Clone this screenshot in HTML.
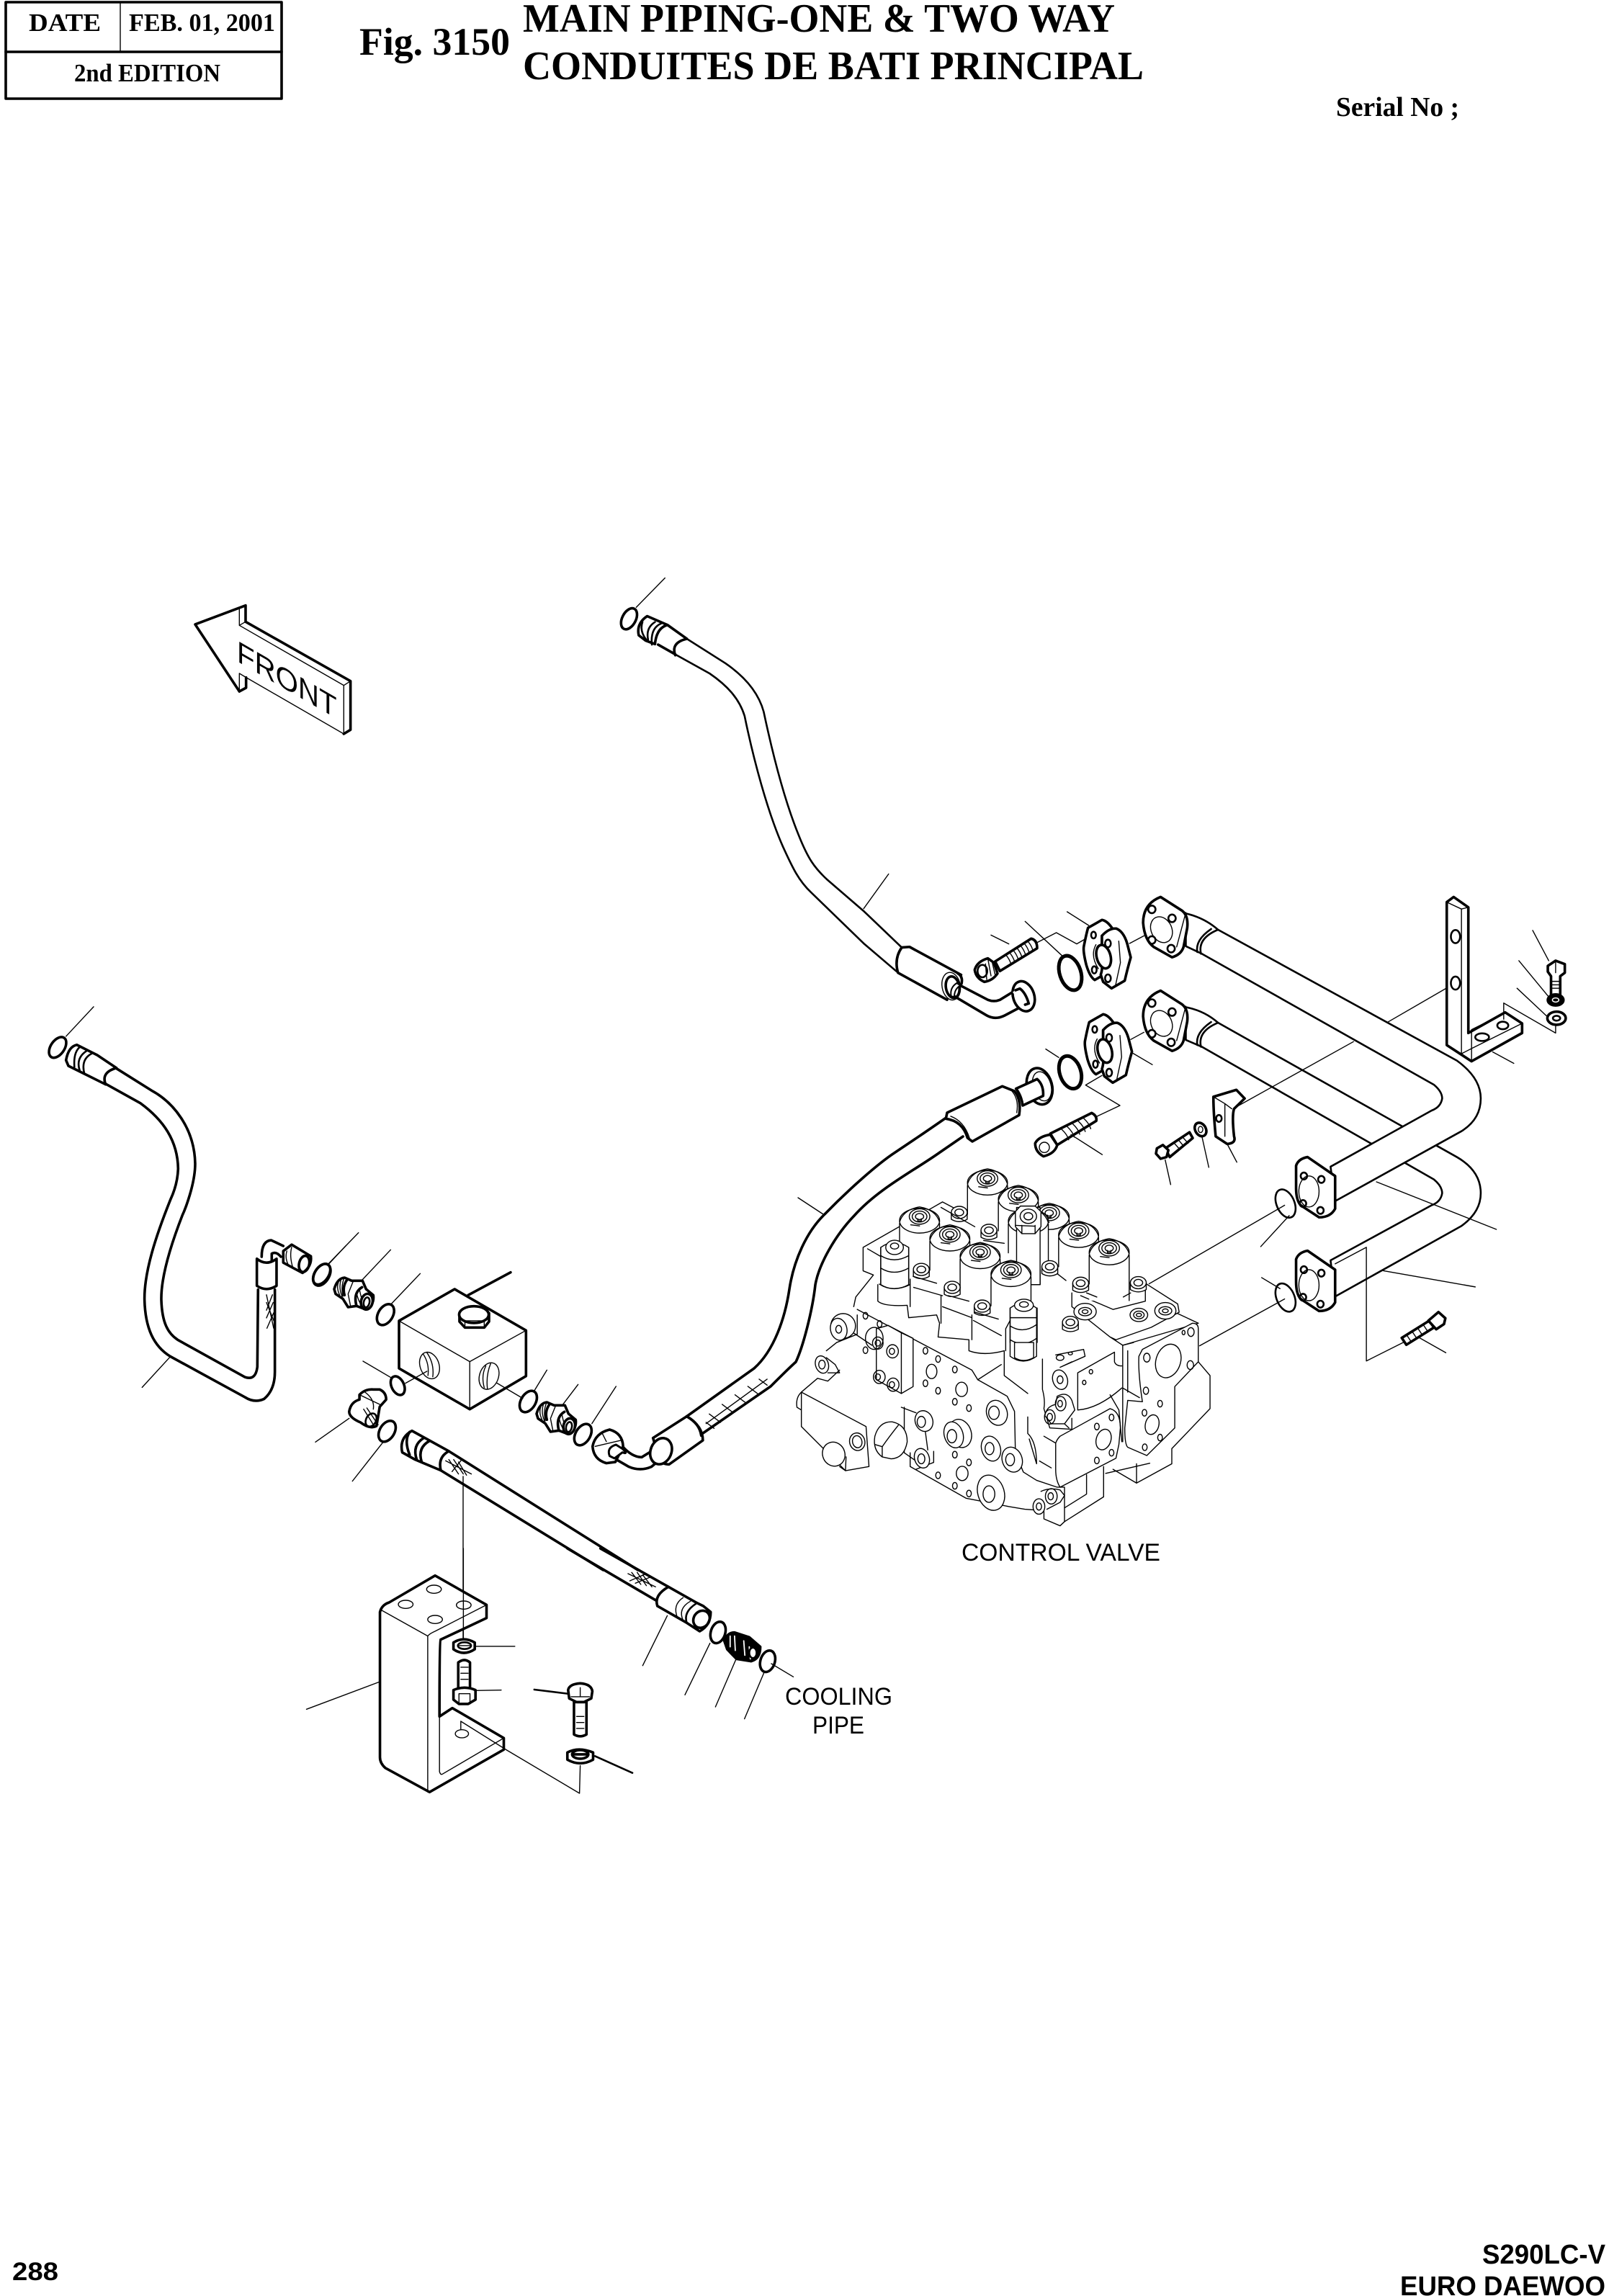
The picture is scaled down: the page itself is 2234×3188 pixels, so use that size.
<!DOCTYPE html>
<html><head><meta charset="utf-8"><title>Fig. 3150</title>
<style>
html,body{margin:0;padding:0;background:#fff}
svg{display:block}
path,line,ellipse,polyline,polygon,rect{vector-effect:non-scaling-stroke;stroke:#000;fill:none;stroke-linejoin:round;stroke-linecap:round}
.k,.k *{stroke-width:3.6}
.m,.m *{stroke-width:2.6}
.t,.t *{stroke-width:1.4}
.w{fill:#fff}
.b{fill:#000}
text{fill:#000;stroke:none}
.s{font-family:"Liberation Serif",serif;font-weight:bold}
.a{font-family:"Liberation Sans",sans-serif}
</style></head><body>
<svg xmlns="http://www.w3.org/2000/svg" width="2234" height="3188" viewBox="0 0 2234 3188">
<rect x="0" y="0" width="2234" height="3188" style="fill:#fff;stroke:none"/>
<defs>
<g id="sol">
<path class="t w" d="M-68,25 L-68,190 L68,190 L68,25 Z" style="stroke:none"/>
<path class="t" d="M-68,25 L-68,130 M68,25 L68,190"/>
<ellipse class="t w" cx="0" cy="15" rx="68" ry="45"/>
<path class="t" d="M-68,20 Q-55,-25 0,-35 Q55,-25 68,20"/>
<ellipse class="t" cx="0" cy="0" rx="35" ry="28"/>
<ellipse class="t" cx="0" cy="0" rx="25" ry="20"/>
<ellipse class="t" cx="0" cy="0" rx="14" ry="11"/>
<path class="t" d="M-6,8 L-6,16 L6,16 L6,8 M-30,30 L0,34"/>
</g>
<g id="cap">
<path class="t w" d="M-27,0 L-27,25 Q0,42 27,25 L27,0 Z"/>
<ellipse class="t w" cx="0" cy="0" rx="27" ry="22"/>
<ellipse class="t" cx="0" cy="0" rx="15" ry="12"/>
</g>
<g id="clamp3">
<path class="k w" d="M632,145 L690,112 Q712,115 735,150 L690,178 L690,300 L698,350 L690,345 L660,362 Q640,350 625,300 Q610,240 615,220 Q625,170 632,145 Z"/>
<path class="k w" d="M690,178 Q720,145 750,148 Q780,160 795,210 L810,268 Q795,320 785,365 L730,397 L695,370 L685,340 Q692,320 690,300 Z"/>
<ellipse class="k w" cx="697" cy="265" rx="29" ry="50" transform="rotate(-15 697 265)"/>
<path class="t" d="M665,215 Q640,260 675,315 M760,200 L767,290 L745,392"/>
<ellipse class="m" cx="655" cy="175" rx="10" ry="14"/>
<ellipse class="m" cx="715" cy="210" rx="12" ry="16"/>
<ellipse class="m" cx="658" cy="320" rx="10" ry="15"/>
<ellipse class="m" cx="715" cy="355" rx="12" ry="16"/>
</g>
<g id="fit">
<path class="k w" d="M72,270 Q85,225 115,222 L145,235 L190,235 L205,270 L235,295 Q240,335 205,355 L165,340 L130,345 L108,310 L78,290 Z"/>
<path class="k" d="M125,232 Q105,260 115,295 M188,262 Q150,285 165,340"/>
<path class="t" d="M90,240 Q80,265 95,295 M100,232 Q90,265 105,300 M112,228 Q100,260 108,300 M150,240 L130,290 L140,340 M165,285 Q172,320 190,345 M178,275 Q185,310 200,350"/>
<ellipse class="k w" cx="208" cy="322" rx="24" ry="33" transform="rotate(12 208 322)"/>
<ellipse class="m" cx="207" cy="325" rx="12" ry="21" transform="rotate(12 207 325)"/>
</g>
<g id="flgA">
<path class="k w" d="M645,95 L692,135 Q706,150 703,185 L695,240 Q690,262 670,270 L630,240 Q610,220 607,170 Q607,115 645,95 Z"/>
<ellipse class="t" cx="647" cy="190" rx="23" ry="38" transform="rotate(-12 647 190)"/>
<ellipse class="m" cx="626" cy="131" rx="8" ry="11"/>
<ellipse class="m" cx="670" cy="157" rx="8" ry="11"/>
<ellipse class="m" cx="626" cy="220" rx="8" ry="11"/>
<ellipse class="m" cx="668" cy="245" rx="8" ry="11"/>
<line class="t" x1="700" y1="140" x2="680" y2="240"/>
</g>
<g id="flgB">
<path class="k w" d="M965,850 L1025,905 L1025,1000 Q1015,1025 990,1025 L950,990 Q940,975 940,940 L940,875 Q945,855 965,850 Z"/>
<ellipse class="t" cx="968" cy="950" rx="22" ry="45"/>
<ellipse class="m" cx="957" cy="905" rx="7" ry="10"/>
<ellipse class="m" cx="995" cy="915" rx="7" ry="10"/>
<ellipse class="m" cx="955" cy="985" rx="7" ry="10"/>
<ellipse class="m" cx="993" cy="1005" rx="7" ry="10"/>
</g>
</defs>

<!-- title block -->
<rect class="k" x="8" y="3" width="383" height="134" style="stroke-width:3.6"/>
<line class="k" x1="8" y1="72" x2="391" y2="72"/>
<line class="t" x1="167" y1="3" x2="167" y2="72"/>
<text class="s" x="40" y="43" font-size="35" textLength="100" lengthAdjust="spacingAndGlyphs">DATE</text>
<text class="s" x="179" y="43" font-size="35" textLength="203" lengthAdjust="spacingAndGlyphs">FEB. 01, 2001</text>
<text class="s" x="103" y="113" font-size="35" textLength="203" lengthAdjust="spacingAndGlyphs">2nd EDITION</text>
<text class="s" x="499" y="76" font-size="54" textLength="209" lengthAdjust="spacingAndGlyphs">Fig. 3150</text>
<text class="s" x="726" y="44" font-size="56" textLength="822" lengthAdjust="spacingAndGlyphs">MAIN PIPING-ONE &amp; TWO WAY</text>
<text class="s" x="726" y="110" font-size="56" textLength="862" lengthAdjust="spacingAndGlyphs">CONDUITES DE BATI PRINCIPAL</text>
<text class="s" x="1855" y="161" font-size="38" textLength="171" lengthAdjust="spacingAndGlyphs">Serial No ;</text>
<text class="a" x="17" y="3166" font-size="35" font-weight="bold" textLength="64" lengthAdjust="spacingAndGlyphs">288</text>
<text class="a" x="2058" y="3143" font-size="38" font-weight="bold" textLength="171" lengthAdjust="spacingAndGlyphs">S290LC-V</text>
<text class="a" x="1944" y="3187" font-size="38" font-weight="bold" textLength="285" lengthAdjust="spacingAndGlyphs">EURO DAEWOO</text>

<!-- FRONT arrow -->
<g transform="translate(240,800) scale(.3333)">
<path class="k" d="M277,480 L93,201 L303,122 L303,190 L740,437 L740,640 L712,657"/>
<path class="k" d="M277,480 L305,465 L305,422"/>
<path class="t" d="M277,130 L277,205 L712,455 L712,657 L305,422 L277,405 L277,480 M712,455 L740,437 M277,205 L303,190"/>
</g>
<text class="a" font-size="42" textLength="160" lengthAdjust="spacingAndGlyphs" transform="matrix(.866,.5,0,1,329,918)">FRONT</text>

<!-- upper hose -->
<g transform="translate(840,780) scale(.4337,.4082)">
<ellipse class="k" cx="77" cy="194" rx="22" ry="38" transform="rotate(25 77 194)"/>
<line class="t" x1="100" y1="155" x2="192" y2="55"/>
<path class="m" d="M262,262 L385,345 C440,385 490,440 508,510 C530,620 570,800 620,930 C650,1010 670,1040 710,1080 L830,1190 L950,1312"/>
<path class="m" d="M225,315 L335,380 C390,420 430,465 447,525 C475,670 520,850 570,970 C600,1040 620,1085 660,1125 L830,1300 L935,1395"/>
<line class="t" x1="828" y1="1180" x2="908" y2="1062"/>
<path class="k" d="M262,262 L200,215 M225,315 L170,282 M262,262 Q210,275 225,318"/>
<path class="k" d="M135,185 L200,215 Q165,225 160,280 L130,268 L108,250 Q100,210 135,185 Z"/>
<path class="m" d="M180,210 Q145,225 150,282 M160,205 Q130,225 138,265 M120,205 Q110,235 132,265"/>
<path class="k" d="M950,1312 L975,1310 L1140,1405 M950,1312 Q925,1350 938,1398 L1095,1490"/>
</g>

<!-- left hose -->
<g transform="translate(40,1380) scale(.3333,.3571)">
<ellipse class="k" cx="120" cy="208" rx="28" ry="46" transform="rotate(38 120 208)"/>
<line class="t" x1="155" y1="165" x2="270" y2="50"/>
<path class="k" d="M365,290 L510,375 C600,420 690,520 693,660 C693,740 650,840 640,860 C590,980 550,1100 552,1190 C555,1280 580,1320 620,1345 L900,1490 Q945,1505 952,1450 L955,1150"/>
<path class="k" d="M320,350 L465,425 C560,490 620,570 622,680 C620,730 605,770 590,800 C530,940 480,1080 482,1190 C485,1300 520,1370 590,1410 L900,1568 Q940,1592 980,1575 Q1025,1540 1025,1470 L1025,1150"/>
<line class="t" x1="592" y1="1408" x2="472" y2="1530"/>
<path class="k" d="M365,288 L285,238 L200,198 Q165,205 155,258 L165,280 L320,352 M365,288 Q300,305 320,352"/>
<path class="m" d="M262,232 Q215,255 232,312 M240,222 Q195,250 212,298 M215,205 Q185,225 190,285"/>
<path class="t" d="M990,1170 L1020,1300 M1015,1170 L990,1230 M1018,1200 L990,1260 M1020,1240 L992,1300 M990,1200 L1020,1270"/>
<path class="k w" d="M950,1030 L950,1135 Q990,1160 1032,1135 L1032,1030 Q990,1060 950,1030 Z"/>
<path class="k" d="M970,1022 Q970,960 1010,958 L1060,980 M1012,1038 L1012,1010 Q1030,1000 1050,1022"/>
<path class="k w" d="M1060,1000 L1095,975 L1175,1020 Q1180,1060 1140,1085 L1060,1045 Z"/>
<ellipse class="k" cx="1147" cy="1050" rx="21" ry="32" transform="rotate(15 1147 1050)"/>
<path class="t" d="M1075,1000 Q1065,1030 1085,1060 M1095,985 Q1085,1020 1100,1065"/>
<ellipse class="k" cx="1220" cy="1090" rx="28" ry="46" transform="rotate(38 1220 1090)"/>
<line class="t" x1="1250" y1="1050" x2="1320" y2="980"/>
</g>

<!-- threaded adapters -->
<g transform="translate(440,1700) scale(.3333)"><use href="#fit"/></g>
<g transform="translate(721,1873) scale(.3333)"><use href="#fit"/></g>

<!-- manifold block and fittings -->
<g transform="translate(400,1680) scale(.4464,.3333)">
<line class="t" x1="125" y1="225" x2="219" y2="95"/>
<ellipse class="k" cx="105" cy="270" rx="24" ry="47" transform="rotate(18 105 270)"/>
<line class="t" x1="228" y1="295" x2="319" y2="166"/>
<line class="t" x1="322" y1="390" x2="411" y2="265"/>
<ellipse class="k" cx="303" cy="436" rx="24" ry="45" transform="rotate(18 303 436)"/>

<path class="k" d="M560,355 L692,260"/>
<path class="k w" d="M345,462 L518,330 L740,502 L740,692 L565,830 L345,660 Z"/>
<path class="t" d="M345,462 L565,632 L740,502 M565,632 L565,830"/>
<ellipse class="t" cx="440" cy="648" rx="30" ry="56" transform="rotate(-10 440 648)"/>
<path class="t" d="M420,600 Q440,640 435,690 M432,595 Q455,640 450,695"/>
<ellipse class="t" cx="625" cy="692" rx="30" ry="56" transform="rotate(10 625 692)"/>
<path class="t" d="M615,650 Q600,690 610,740 M630,640 Q615,690 620,745"/>
<path class="k w" d="M533,430 L533,465 L550,490 L610,490 L625,465 L625,430 Z"/>
<ellipse class="k w" cx="578" cy="436" rx="46" ry="35"/>
<path class="t" d="M550,490 L550,462 L610,462 L610,490"/>
<path class="t" d="M365,722 L432,672 M648,720 L730,785"/>
<line class="t" x1="233" y1="630" x2="322" y2="700"/>
<ellipse class="k" cx="341" cy="732" rx="20" ry="40" transform="rotate(-15 341 732)"/>
<ellipse class="k" cx="747" cy="798" rx="24" ry="46" transform="rotate(18 747 798)"/>
<line class="t" x1="765" y1="755" x2="805" y2="667"/>

<path class="k w" d="M222,770 Q240,745 265,748 L285,748 Q305,760 305,790 L285,820 L275,900 Q255,915 225,885 Q190,865 190,840 Q195,800 222,790 Z"/>
<path class="t" d="M222,770 L285,810 M240,760 Q270,790 265,830 M235,830 L270,905 M245,825 L280,895"/>
<ellipse class="m" cx="258" cy="875" rx="16" ry="28" transform="rotate(15 258 875)"/>
<line class="t" x1="190" y1="868" x2="85" y2="967"/>
<ellipse class="k" cx="308" cy="922" rx="24" ry="45" transform="rotate(18 308 922)"/>
<line class="t" x1="295" y1="968" x2="200" y2="1130"/>

<line class="t" x1="855" y1="810" x2="902" y2="727"/>
<ellipse class="k" cx="917" cy="936" rx="24" ry="46" transform="rotate(18 917 936)"/>
<line class="t" x1="945" y1="890" x2="1020" y2="735"/>

<path class="k" d="M1040,985 Q1070,1030 1100,1030 L1130,1005 M995,1020 L1060,1070 Q1095,1090 1130,1070 L1175,1020"/>
<path class="k w" d="M947,985 Q955,930 1000,915 Q1040,930 1042,985 L1018,1050 L990,1055 Q950,1040 947,985 Z"/>
<path class="k w" d="M1000,1025 Q990,990 1020,978 L1040,995 Q1060,1020 1040,1010 L1015,1035 Z" style="stroke-width:3"/>
<path class="t" d="M955,985 L1035,960 M975,925 L990,965"/>
<path class="k w" d="M1135,950 L1240,860 Q1290,900 1290,960 L1185,1060 Q1165,1060 1155,1040 Z"/>
<ellipse class="k w" cx="1160" cy="1005" rx="33" ry="55" transform="rotate(10 1160 1005)"/>
<path class="k" d="M1240,860 Q1280,890 1285,940"/>
<path class="t" d="M1300,890 L1490,705 M1310,850 L1345,885 M1350,810 L1385,845 M1390,770 L1425,805 M1430,735 L1460,765 M1465,705 L1490,730 M1300,885 L1325,910"/>

<path class="k" d="M500,1005 L1088,1500 M475,1085 L980,1500"/>
<path class="k w" d="M385,920 L500,1005 Q465,1030 475,1085 L395,1040 L355,1010 Q345,950 385,920 Z"/>
<path class="k" d="M422,950 Q385,980 400,1040 M440,962 Q402,990 415,1048 M378,925 Q360,960 378,1020"/>
<path class="t" d="M490,1045 L570,1100 M500,1040 L530,1100 M515,1040 L545,1100 M530,1050 L555,1105 M510,1090 L540,1040"/>
</g>

<line class="t" x1="643" y1="2050" x2="643" y2="2285"/>

<!-- main hose -->
<path class="k" d="M953,1967 L1047,1900 C1075,1875 1090,1830 1096,1790 C1102,1750 1120,1710 1145,1686 C1180,1650 1220,1615 1243,1600 Q1285,1572 1315,1551"/>
<path class="k" d="M976,1990 L1070,1925 Q1095,1900 1105,1891 C1115,1870 1128,1820 1132,1784 C1137,1755 1160,1715 1186,1688 C1220,1650 1270,1625 1305,1600 L1337,1578"/>
<line class="t" x1="1108" y1="1663" x2="1143" y2="1686"/>

<!-- bracket -->
<g transform="translate(400,2150) scale(.5102,.3333)">
<path class="k" d="M760,0 L1005,220 M850,0 L1035,160"/>
<path class="k w" d="M400,113 L540,235 L540,290 L415,380 Q412,385 412,700 L447,665 L587,790 L587,838 L385,1015 L265,915 Q250,895 250,870 L250,265 Q255,235 275,225 Z"/>
<path class="t" d="M255,258 L380,365 L380,1015 M380,365 Q385,355 400,345 L540,235 M412,700 L412,930 Q415,945 420,940 L587,790"/>
<ellipse class="t" cx="397" cy="170" rx="20" ry="17"/>
<ellipse class="t" cx="320" cy="233" rx="20" ry="17"/>
<ellipse class="t" cx="478" cy="236" rx="20" ry="17"/>
<ellipse class="t" cx="400" cy="296" rx="20" ry="17"/>
<ellipse class="t" cx="473" cy="772" rx="18" ry="17"/>
<path class="t" d="M470,755 L470,720 L595,840 L793,1020 L795,905"/>
<line class="t" x1="477" y1="0" x2="477" y2="375"/>
<path class="k w" d="M450,392 Q478,365 508,392 L508,420 Q478,450 450,420 Z"/>
<ellipse class="m" cx="480" cy="405" rx="18" ry="14"/>
<line class="t" x1="462" y1="405" x2="498" y2="405"/>
<path class="k w" d="M463,590 L463,475 Q480,455 495,475 L495,590"/>
<path class="t" d="M470,495 L490,495 M470,520 L490,520 M470,545 L490,545"/>
<path class="k w" d="M450,590 Q480,570 510,590 L510,630 L490,648 L465,648 L450,630 Z"/>
<path class="t" d="M465,605 L495,605 M465,605 L465,648 M495,605 L495,648"/>
<line class="t" x1="510" y1="408" x2="617" y2="408"/>
<line class="t" x1="510" y1="592" x2="580" y2="590"/>
<line class="m" x1="670" y1="588" x2="760" y2="605"/>
<path class="k w" d="M778,640 L778,775 Q795,790 812,775 L812,640 Z"/>
<path class="t" d="M785,700 L805,700 M785,725 L805,725 M785,750 L805,750"/>
<path class="k w" d="M762,590 Q765,565 795,562 Q825,565 828,595 L825,625 L805,640 L785,640 L765,625 Z"/>
<path class="t" d="M770,618 L795,618 L820,618 M795,580 L795,618"/>
<path class="k w" d="M760,850 Q790,825 830,850 L830,880 Q795,910 760,880 Z"/>
<ellipse class="k" cx="795" cy="858" rx="22" ry="18"/>
<line class="k" x1="775" y1="858" x2="815" y2="858"/>
<line class="m" x1="835" y1="865" x2="937" y2="935"/>
<line class="t" x1="250" y1="555" x2="50" y2="670"/>

<path class="t" d="M925,105 L1000,160 M935,100 L960,150 M950,100 L975,155 M965,110 L990,160 M930,135 L975,105 M945,145 L985,120"/>
<path class="k w" d="M1035,160 L1110,225 L1130,240 L1150,265 Q1150,320 1120,345 L1085,310 L1005,240 Q995,195 1035,160 Z"/>
<path class="t" d="M1075,205 Q1045,235 1060,290 M1095,220 Q1060,250 1075,300"/>
<path class="m" d="M1110,230 Q1075,265 1085,310"/>
<ellipse class="k" cx="1125" cy="295" rx="22" ry="36" transform="rotate(8 1125 295)"/>
<ellipse class="k" cx="1170" cy="350" rx="20" ry="45" transform="rotate(8 1170 350)"/>
<path class="k b" d="M1187,385 Q1195,350 1215,350 L1255,370 L1285,410 Q1285,460 1260,470 L1220,460 L1195,420 Z"/>
<path style="stroke:#fff;stroke-width:1.8" d="M1203,365 L1203,410 M1215,365 L1217,425 M1240,385 L1243,445 M1255,410 L1258,460"/>
<ellipse class="m w" cx="1265" cy="435" rx="10" ry="22"/>
<ellipse class="k" cx="1305" cy="470" rx="20" ry="45" transform="rotate(8 1305 470)"/>
<line class="t" x1="1032" y1="280" x2="965" y2="488"/>
<line class="t" x1="1148" y1="395" x2="1080" y2="610"/>
<line class="t" x1="1218" y1="465" x2="1163" y2="660"/>
<line class="t" x1="1295" y1="518" x2="1242" y2="710"/>
<line class="t" x1="1315" y1="480" x2="1375" y2="535"/>
</g>

<text class="a" x="1090" y="2367" font-size="34" textLength="149" lengthAdjust="spacingAndGlyphs">COOLING</text>
<text class="a" x="1128" y="2407" font-size="34" textLength="72" lengthAdjust="spacingAndGlyphs">PIPE</text>
<text class="a" x="1335" y="2167" font-size="34" textLength="276" lengthAdjust="spacingAndGlyphs">CONTROL VALVE</text>

<!-- control valve -->
<g transform="translate(1080,1600) scale(.4082,.3827)">
<g class="t">
<path d="M290,345 L560,180 L640,225 M290,345 L290,430 L325,445 L265,525 L258,560 M305,350 L350,378"/>
<path d="M340,480 L340,540 Q360,560 440,555 L445,600 L540,590 L550,620 L545,670 L650,680 L650,720 Q700,740 770,720"/>
<path d="M450,460 L450,560 M555,520 L555,620 M660,590 L660,680"/>
<path d="M270,570 L660,790 L680,825 L780,885 L805,940 L808,1090 L835,1160 L880,1190 L950,1215 L975,1215 L975,1340 L960,1355 L905,1330 L905,1300 L840,1295 L785,1285 L640,1255 L450,1140 L450,1090"/>
<path d="M80,870 L300,995 L310,1140 L230,1155 L80,995 Z M80,870 Q60,890 65,925 L80,935 M80,870 L135,820 L170,830 L210,790"/>
<path class="w" d="M335,640 L375,628 L460,675 L460,850 L420,875 L335,825 Z"/>
<path d="M375,628 L420,655 L420,875 M420,655 L460,675"/>
<path d="M430,925 L430,1090 L470,1120 M420,925 L470,945 M500,1000 L510,1080 M530,1085 L530,1125 L470,1150"/>
<path d="M270,590 L270,660 L200,690 L165,720 M250,650 L320,700 M680,825 L760,770"/>
<path d="M770,720 L770,810 L850,875 M900,750 L900,860 Q910,900 905,930 L925,1000 L1000,1005 M1020,800 L1020,935 Q1090,930 1170,855 M1020,800 L1145,725 L1145,760 Q1150,775 1170,775"/>
<path d="M850,960 L850,1020 Q880,1050 880,1130 M855,1040 L880,1130 M890,1120 L930,1145 M905,1030 L945,1055 M945,1055 Q950,1040 960,1030 L1130,930 Q1165,940 1165,1000 L1160,1060 L1150,1110 L960,1215 Q945,1190 945,1150 L945,1055"/>
<path d="M1130,880 L1160,935 L1170,1050 M1050,1170 L1050,1240 L975,1290 M1108,1140 L1108,1250 L975,1340"/>
<path d="M1115,1165 L1265,1128 M1140,1150 L1220,1200 M1220,1200 L1220,1130"/>
<path d="M1173,700 L1173,855 L1230,890 M1173,700 L1210,690 M1190,720 L1190,870 M1173,855 L1173,1050"/>
<path d="M1000,510 L1000,560 L1130,670 L1173,700 L1430,620 M1130,670 L1150,680 L1270,635 L1365,580 L1360,550 L1250,475 M1250,490 L1250,540 L1140,570 L1030,520"/>
<path class="w" d="M1240,715 L1410,620 Q1430,620 1430,640 L1430,760 L1350,850 L1350,1000 L1255,1100 L1190,1070 Q1180,1060 1180,1000 L1190,900 L1240,905 Q1225,800 1228,740 Z"/>
<path d="M1360,585 L1430,620 M1430,760 L1470,810 L1470,930 L1340,1075 L1340,1130 L1220,1200"/>
<ellipse cx="1328" cy="757" rx="42" ry="62" transform="rotate(15 1328 757)"/>
<ellipse cx="1273" cy="988" rx="23" ry="36" transform="rotate(12 1273 988)"/>
<ellipse cx="1255" cy="745" rx="11" ry="16"/><ellipse cx="1405" cy="652" rx="11" ry="16"/><ellipse cx="1403" cy="772" rx="11" ry="16"/><ellipse cx="1252" cy="865" rx="9" ry="13"/><ellipse cx="1300" cy="912" rx="8" ry="12"/><ellipse cx="1247" cy="945" rx="8" ry="12"/><ellipse cx="1300" cy="1035" rx="8" ry="12"/><ellipse cx="1248" cy="1070" rx="8" ry="12"/><ellipse cx="1380" cy="654" rx="5" ry="8"/>
<ellipse cx="1108" cy="1042" rx="25" ry="38" transform="rotate(15 1108 1042)"/>
<ellipse cx="1085" cy="995" rx="8" ry="12"/><ellipse cx="1135" cy="962" rx="8" ry="12"/><ellipse cx="1085" cy="1118" rx="8" ry="12"/><ellipse cx="1135" cy="1090" rx="8" ry="12"/>
<ellipse cx="523" cy="795" rx="18" ry="26"/><ellipse cx="625" cy="860" rx="20" ry="26"/><ellipse cx="627" cy="1165" rx="20" ry="26"/>
<ellipse cx="502" cy="720" rx="8" ry="12"/><ellipse cx="545" cy="750" rx="8" ry="12"/><ellipse cx="602" cy="788" rx="8" ry="12"/><ellipse cx="502" cy="838" rx="8" ry="12"/><ellipse cx="545" cy="865" rx="8" ry="12"/><ellipse cx="602" cy="905" rx="8" ry="12"/><ellipse cx="650" cy="928" rx="8" ry="12"/><ellipse cx="602" cy="1097" rx="8" ry="12"/><ellipse cx="650" cy="1125" rx="8" ry="12"/><ellipse cx="545" cy="1172" rx="8" ry="12"/><ellipse cx="602" cy="1210" rx="8" ry="12"/><ellipse cx="650" cy="1238" rx="8" ry="12"/>
<ellipse cx="298" cy="593" rx="8" ry="12"/><ellipse cx="346" cy="623" rx="8" ry="12"/><ellipse cx="298" cy="718" rx="8" ry="12"/><ellipse cx="328" cy="675" rx="30" ry="40"/>
<ellipse cx="1065" cy="796" rx="6" ry="8"/><ellipse cx="1042" cy="835" rx="6" ry="8"/>
<ellipse cx="960" cy="745" rx="13" ry="10"/><ellipse cx="995" cy="730" rx="7" ry="5"/>
<path d="M945,735 L1040,715 L1045,740 L960,780 L1000,760"/>
</g>
<g class="t">
<use href="#sol" x="713" y="95"/>
<use href="#sol" x="818" y="155"/>
<use href="#sol" x="923" y="220"/>
<use href="#sol" x="1023" y="285"/>
<use href="#sol" x="1127" y="348"/>
<path class="w" d="M812,200 L892,200 L892,480 L812,480 Z"/>
<use href="#sol" x="852" y="235"/>
<path class="w" d="M812,215 L892,215 L892,480 L812,480 Z"/>
<path class="w" d="M808,215 L825,195 L875,195 L895,215 L895,270 L875,295 L830,295 L808,270 Z"/>
<ellipse cx="852" cy="232" rx="28" ry="26"/><ellipse cx="852" cy="232" rx="15" ry="13"/>
<path d="M830,265 L830,295 M875,265 L875,295 M808,265 L875,268"/>
<use href="#sol" x="482" y="233"/>
<use href="#sol" x="585" y="298"/>
<use href="#sol" x="688" y="362"/>
<use href="#sol" x="793" y="427"/>
<use href="#cap" x="617" y="218"/>
<use href="#cap" x="718" y="283"/>
<use href="#cap" x="488" y="425"/>
<use href="#cap" x="593" y="490"/>
<use href="#cap" x="695" y="558"/>
<use href="#cap" x="925" y="415"/>
<use href="#cap" x="1030" y="475"/>
<use href="#cap" x="1226" y="473"/>
<use href="#cap" x="995" y="617"/>
<path d="M555,200 L670,270 M460,450 L540,475 M580,520 L650,540 M670,580 L750,605 M700,320 L770,330 M950,440 L980,465 M1050,510 L1085,525 M1175,525 L1200,510"/>
<path class="m" d="M462,490 L560,520 M560,560 L660,600 M665,610 L760,665"/>
</g>
<g class="t">
<path class="w" d="M350,345 L350,480 Q395,510 445,480 L445,345 Q395,310 350,345 Z"/>
<path class="m" d="M350,345 L350,480 M445,345 L445,480"/>
<ellipse class="w" cx="397" cy="345" rx="30" ry="26"/>
<ellipse cx="397" cy="340" rx="14" ry="11"/>
<path d="M350,375 Q395,405 445,375 M350,420 Q395,450 445,420"/>
<path class="m" d="M345,478 Q390,510 450,480"/>
<path class="w" d="M790,565 L790,740 Q835,775 880,740 L880,565 Q835,530 790,565 Z"/>
<path class="m" d="M790,565 L790,690 M882,565 L882,690"/>
<ellipse class="w" cx="837" cy="555" rx="32" ry="22"/>
<ellipse cx="837" cy="552" rx="15" ry="10"/>
<path d="M790,630 Q835,660 880,625 M790,680 Q835,710 880,675 M790,600 L880,600"/>
<path class="w" d="M805,690 L870,690 L870,745 Q835,765 805,745 Z"/>
<path d="M775,720 L775,640 L790,610"/>
<ellipse class="w" cx="745" cy="945" rx="35" ry="46" transform="rotate(-15 745 945)"/>
<ellipse cx="735" cy="945" rx="18" ry="24"/>
<ellipse class="w" cx="725" cy="1075" rx="32" ry="46" transform="rotate(-15 725 1075)"/>
<ellipse cx="720" cy="1075" rx="15" ry="22"/>
<ellipse class="w" cx="797" cy="1115" rx="34" ry="46" transform="rotate(-15 797 1115)"/>
<ellipse cx="790" cy="1115" rx="15" ry="22"/>
<ellipse class="w" cx="725" cy="1235" rx="45" ry="65" transform="rotate(-15 725 1235)"/>
<ellipse cx="718" cy="1240" rx="20" ry="30"/>
<ellipse class="w" cx="620" cy="1020" rx="38" ry="52" transform="rotate(-15 620 1020)"/>
<ellipse class="w" cx="598" cy="1025" rx="32" ry="48" transform="rotate(-15 598 1025)"/>
<ellipse cx="592" cy="1030" rx="16" ry="24"/>
<ellipse class="w" cx="497" cy="975" rx="30" ry="38" transform="rotate(-15 497 975)"/>
<ellipse cx="488" cy="978" rx="14" ry="20"/>
<ellipse class="w" cx="490" cy="1110" rx="25" ry="36" transform="rotate(-15 490 1110)"/>
<ellipse cx="488" cy="1112" rx="12" ry="18"/>
<path class="w" d="M330,1030 Q345,975 390,978 Q440,990 440,1050 Q430,1110 385,1112 L355,1105 Q322,1080 330,1030 Z"/>
<path d="M330,1060 L355,1068 L355,1105 M355,1068 Q380,1030 410,990"/>
<ellipse class="w" cx="190" cy="1095" rx="38" ry="44" transform="rotate(-15 190 1095)"/>
<path d="M210,1140 L230,1155 L232,1105"/>
<ellipse cx="270" cy="1050" rx="26" ry="32" transform="rotate(-10 270 1050)"/>
<ellipse cx="270" cy="1050" rx="16" ry="22" transform="rotate(-10 270 1050)"/>
<ellipse class="w" cx="222" cy="630" rx="42" ry="45"/>
<ellipse class="w" cx="207" cy="642" rx="28" ry="40" transform="rotate(-10 207 642)"/>
<ellipse cx="207" cy="642" rx="10" ry="14"/>
<ellipse class="w" cx="150" cy="770" rx="22" ry="32" transform="rotate(-15 150 770)"/>
<ellipse cx="150" cy="770" rx="11" ry="16"/>
<path d="M165,745 L195,770 L210,800 L170,800"/>
<ellipse cx="340" cy="692" rx="18" ry="22"/><ellipse cx="340" cy="692" rx="9" ry="11"/>
<ellipse cx="390" cy="722" rx="20" ry="24"/><ellipse cx="388" cy="722" rx="9" ry="11"/>
<ellipse cx="345" cy="815" rx="20" ry="24"/><ellipse cx="340" cy="815" rx="9" ry="11"/>
<ellipse cx="392" cy="843" rx="20" ry="24"/><ellipse cx="388" cy="843" rx="9" ry="11"/>
<ellipse class="w" cx="960" cy="825" rx="25" ry="36" transform="rotate(-15 960 825)"/>
<ellipse cx="960" cy="825" rx="10" ry="14"/>
<path class="w" d="M950,885 Q985,865 1000,900 L1010,935 L975,985 L930,985 L908,955 Q915,920 945,915 Z"/>
<ellipse cx="962" cy="912" rx="18" ry="26"/><ellipse cx="925" cy="960" rx="18" ry="26"/><ellipse cx="925" cy="960" rx="9" ry="13"/><ellipse cx="960" cy="912" rx="8" ry="12"/>
<path d="M1000,965 L1000,1005 M975,985 L990,1000"/>
<ellipse class="w" cx="930" cy="1248" rx="20" ry="28"/><ellipse cx="928" cy="1248" rx="9" ry="13"/>
<ellipse class="w" cx="888" cy="1285" rx="20" ry="28"/><ellipse cx="888" cy="1285" rx="9" ry="13"/>
<path d="M895,1230 Q925,1215 960,1225 L975,1245 L960,1270 L915,1295"/>
<ellipse class="w" cx="1045" cy="578" rx="38" ry="30"/><ellipse cx="1045" cy="578" rx="22" ry="15"/><ellipse cx="1045" cy="578" rx="10" ry="7"/>
<ellipse class="w" cx="1228" cy="590" rx="30" ry="24"/><ellipse cx="1228" cy="590" rx="18" ry="14"/><ellipse cx="1228" cy="590" rx="9" ry="6"/>
<ellipse class="w" cx="1318" cy="575" rx="36" ry="30"/><ellipse cx="1318" cy="575" rx="22" ry="15"/><ellipse cx="1318" cy="575" rx="10" ry="7"/>
</g>
</g>

<!-- pipes, flanges -->
<g transform="translate(1200,1200) scale(.6378,.4783)">
<!-- pipe 2 -->
<path class="m w" d="M700,415 Q740,425 770,460 L1290,850 Q1342,890 1342,955 Q1342,1010 1300,1050 L1025,1255 L1015,1150 L1235,990 Q1255,980 1258,955 Q1258,935 1240,915 L735,530 L700,510 Z"/>
<path class="m" d="M770,460 Q725,485 733,530 M755,458 Q720,490 725,525"/>
<use href="#flgA" y="272"/>
<use href="#flgB" y="272"/>
<!-- pipe 1 -->
<path class="m w" d="M700,143 Q740,155 770,190 L1290,570 Q1342,620 1342,680 Q1342,740 1300,775 L1025,978 L1015,878 L1235,715 Q1255,705 1258,680 Q1258,660 1240,640 L735,260 L700,238 Z"/>
<path class="m" d="M770,190 Q725,215 733,260 M755,188 Q720,220 725,255"/>
<use href="#flgA"/>
<use href="#flgB"/>
<!-- clamp bracket -->
<path class="k w" d="M760,675 L810,655 L828,680 L805,710 Q800,730 805,790 Q810,810 790,812 L765,790 Q760,720 760,675 Z"/>
<path class="t" d="M760,675 L785,695 L800,710 M785,695 L785,790"/>
<ellipse class="m" cx="772" cy="738" rx="6" ry="10"/>
<line class="t" x1="790" y1="812" x2="811" y2="865"/>
<line class="t" x1="805" y1="708" x2="1065" y2="515"/>
<ellipse class="k w" cx="732" cy="770" rx="12" ry="20" transform="rotate(-15 732 770)"/>
<ellipse class="t" cx="732" cy="770" rx="5" ry="9"/>
<line class="t" x1="735" y1="790" x2="750" y2="880"/>
<path class="k w" d="M655,825 L708,778 L715,795 L665,850 Z"/>
<path class="t" d="M675,810 L685,825 M685,802 L695,818 M695,795 L705,810"/>
<path class="k w" d="M637,825 L650,815 L662,830 L658,850 L645,855 L635,840 Z"/>
<line class="t" x1="655" y1="858" x2="667" y2="930"/>
<!-- leaders right -->
<line class="t" x1="1140" y1="458" x2="1280" y2="350"/>
<line class="t" x1="620" y1="1218" x2="915" y2="990"/>
<line class="t" x1="925" y1="1020" x2="863" y2="1110"/>
<ellipse class="m" cx="917" cy="985" rx="20" ry="42" transform="rotate(-14 917 985)"/>
<line class="t" x1="730" y1="1398" x2="915" y2="1262"/>
<ellipse class="m" cx="917" cy="1258" rx="20" ry="42" transform="rotate(-14 917 1258)"/>
<line class="t" x1="865" y1="1200" x2="905" y2="1232"/>
<line class="t" x1="1115" y1="922" x2="1376" y2="1060"/>
<line class="t" x1="1130" y1="1180" x2="1330" y2="1227"/>
<path class="t" d="M1025,1160 L1093,1112 L1093,1442 L1178,1385"/>
<!-- right bolt -->
<path class="k w" d="M1170,1375 L1230,1325 L1240,1345 L1180,1395 Z"/>
<path class="t" d="M1180,1365 L1190,1385 M1192,1355 L1202,1375 M1204,1345 L1214,1365 M1216,1335 L1226,1355"/>
<path class="k w" d="M1228,1325 L1250,1300 L1265,1318 L1262,1335 L1245,1350 Z"/>
<line class="t" x1="1205" y1="1372" x2="1266" y2="1418"/>
<!-- L bracket -->
<path class="k w" d="M1268,110 L1283,95 L1315,125 L1315,490 L1395,430 L1432,462 L1432,490 L1322,572 L1268,525 Z"/>
<path class="t" d="M1268,110 L1300,130 L1300,550 M1300,130 L1315,125 M1322,480 L1395,432 M1322,480 L1322,572 M1300,550 L1322,535 L1432,462"/>
<ellipse class="m" cx="1287" cy="210" rx="10" ry="19"/>
<ellipse class="m" cx="1287" cy="345" rx="10" ry="19"/>
<ellipse class="m" cx="1345" cy="502" rx="15" ry="11"/>
<ellipse class="m" cx="1390" cy="468" rx="12" ry="11"/>
<line class="t" x1="1368" y1="545" x2="1414" y2="578"/>
<line class="t" x1="1455" y1="192" x2="1490" y2="280"/>
<line class="t" x1="1425" y1="280" x2="1490" y2="385"/>
<line class="t" x1="1421" y1="360" x2="1485" y2="440"/>
<path class="t" d="M1392,450 L1392,403 L1505,490 L1505,470"/>
<path class="k w" d="M1488,295 L1505,280 L1525,290 L1525,315 L1515,325 L1515,380 L1495,380 L1495,325 L1488,312 Z"/>
<path class="t" d="M1498,340 L1512,340 M1498,350 L1512,350 M1498,360 L1512,360 M1505,285 L1505,315"/>
<ellipse class="k b" cx="1505" cy="394" rx="17" ry="16"/>
<ellipse style="stroke:#fff;stroke-width:1.5" cx="1505" cy="394" rx="7" ry="6"/>
<ellipse class="k w" cx="1507" cy="447" rx="20" ry="19"/>
<ellipse class="m" cx="1507" cy="447" rx="8" ry="7"/>
</g>

<!-- clamps, bolts, hose ends -->
<g transform="translate(1300,1240) scale(.3333)">
<path class="k" d="M100,385 L215,445 Q240,455 265,445 L330,405 M75,430 L210,510 Q245,530 285,510 L370,465"/>
<path class="k" d="M90,335 Q112,348 105,378"/>
<ellipse class="t" cx="62" cy="388" rx="38" ry="58" transform="rotate(-10 62 388)"/>
<ellipse class="k" cx="68" cy="392" rx="28" ry="45" transform="rotate(-10 68 392)"/>
<path class="k w" d="M100,385 Q75,400 75,432 L62,430 Q55,395 85,375 Z" style="stroke-width:2"/>
<ellipse class="k w" cx="364" cy="430" rx="44" ry="64" transform="rotate(-18 364 430)"/>
<path class="k w" d="M318,412 L348,398 Q378,420 385,462 L362,475 Z" style="stroke:none"/>
<path class="k" d="M330,405 L348,398 Q372,415 385,460 L370,465"/>
<line class="t" x1="228" y1="175" x2="302" y2="212"/>
<path class="k w" d="M245,285 L395,190 Q420,195 420,230 L265,325 Z"/>
<path class="t" d="M290,258 Q305,275 312,298 M305,248 Q320,265 327,288 M320,238 Q335,255 342,278 M335,228 Q350,245 357,268 M350,218 Q365,235 372,258 M365,208 Q380,225 387,248 M380,200 Q395,215 402,238"/>
<path class="k w" d="M160,320 Q170,285 215,272 L240,290 L255,335 Q235,365 200,370 Q165,355 160,320 Z"/>
<ellipse class="m" cx="192" cy="325" rx="20" ry="26"/>
<path class="t" d="M215,275 L228,345 M232,285 L245,340 M205,295 L210,360"/>
<path class="t" d="M422,205 L500,165 L585,212 L640,180"/>
<line class="t" x1="370" y1="118" x2="525" y2="262"/>
<line class="t" x1="545" y1="78" x2="635" y2="135"/>
<ellipse class="k" cx="558" cy="333" rx="44" ry="74" transform="rotate(-18 558 333)" style="stroke-width:5"/>
<use href="#clamp3"/>
<line class="t" x1="805" y1="210" x2="865" y2="178"/>

<path class="k w" d="M45,915 L275,805 L325,825 Q355,860 345,925 L150,1035 L130,1020 Q110,950 40,940 Z"/>
<path class="t" d="M60,930 Q115,950 138,1020 M315,825 Q345,860 335,915"/>
<ellipse class="k w" cx="430" cy="805" rx="52" ry="77" transform="rotate(-15 430 805)"/>
<ellipse class="t" cx="440" cy="805" rx="38" ry="62" transform="rotate(-15 440 805)"/>
<path class="k w" d="M332,815 L420,775 Q448,800 445,845 L360,885 Q355,845 332,815 Z"/>
<path class="k" d="M420,775 Q448,800 445,845" style="stroke-width:2"/>
<ellipse class="k" cx="558" cy="747" rx="44" ry="70" transform="rotate(-18 558 747)" style="stroke-width:5"/>
<use href="#clamp3" x="5" y="393"/>
<line class="t" x1="456" y1="650" x2="510" y2="685"/>
<line class="t" x1="810" y1="610" x2="865" y2="580"/>
<line class="t" x1="820" y1="668" x2="900" y2="715"/>
<path class="t" d="M690,760 L622,800 L765,885 L670,930"/>
</g>
<!-- lower socket bolt -->
<g transform="translate(1200,1200) scale(.6378,.4783)">
<path class="k w" d="M405,782 L495,722 Q507,730 505,745 L420,815 Z"/>
<path class="t" d="M430,770 Q442,785 445,800 M442,762 Q454,777 457,792 M454,754 Q466,769 469,784 M466,746 Q478,761 481,776 M478,738 Q490,753 493,768"/>
<path class="k w" d="M372,810 Q380,790 405,785 L420,815 Q415,840 390,848 Q372,835 372,810 Z"/>
<ellipse class="t" cx="392" cy="822" rx="11" ry="15"/>
<line class="t" x1="450" y1="785" x2="518" y2="843"/>
</g>
</svg>
</body></html>
